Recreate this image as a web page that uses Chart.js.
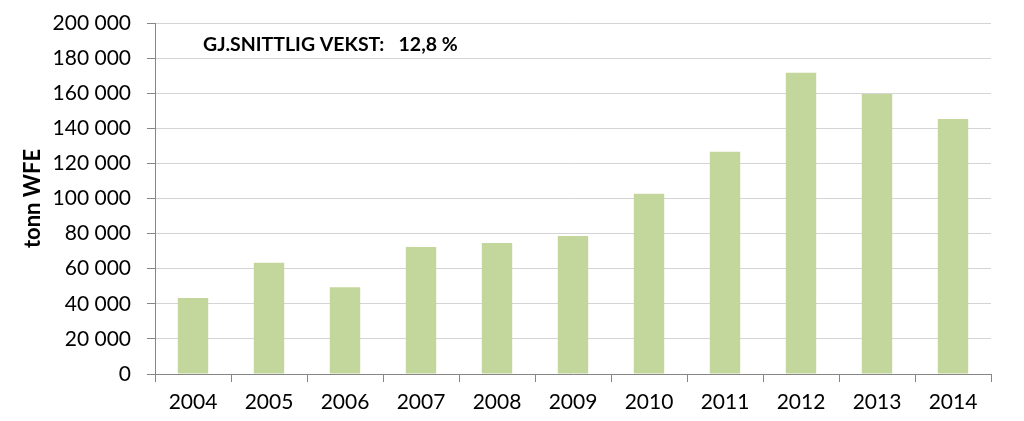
<!DOCTYPE html>
<html>
<head>
<meta charset="utf-8">
<script src="https://cdn.jsdelivr.net/npm/chart.js@4"></script>
<style>
  html, body { margin: 0; padding: 0; background: #fff; }
  #wrap { width: 1024px; height: 421px; }
</style>
</head>
<body>
<div id="wrap"><canvas id="chart" width="1024" height="421"></canvas></div>
<script>
const years = ['2004', '2005', '2006', '2007', '2008', '2009', '2010', '2011', '2012', '2013', '2014'];
const tonnWfe = [43300, 63400, 49400, 72400, 74600, 78600, 102700, 126700, 171700, 159500, 145300];
const yTicks = [0, 20000, 40000, 60000, 80000, 100000, 120000, 140000, 160000, 180000, 200000];
const yTitle = 'tonn WFE';
const note = 'GJ.SNITTLIG VEKST:   12,8 %';

const fontFam = 'Lato, "Open Sans", sans-serif';

function fmt(v) {
    return String(v).replace(/\B(?=(\d{3})+(?!\d))/g, ' ');
}

// the "average growth" text in the top left of the plot
const notePlugin = {
    id: 'note',
    afterDraw(chart) {
        const c = chart.ctx;
        const a = chart.chartArea;
        c.save();
        c.font = 'bold 19.5px ' + fontFam;
        c.fillStyle = '#000';
        c.textBaseline = 'middle';
        c.fillText(note, a.left + 48, a.top + 22);
        c.restore();
    }
};

const ctx = document.getElementById('chart').getContext('2d');
const myChart = new Chart(ctx, {
    type: 'bar',
    data: {
        labels: years,
        datasets: [{
            data: tonnWfe,
            backgroundColor: '#c3d69b',
            barPercentage: 0.4,
            categoryPercentage: 1.0
        }]
    },
    options: {
        responsive: false,
        animation: false,
        layout: { padding: { top: 23, right: 33, left: 0, bottom: 0 } },
        plugins: {
            legend: { display: false },
            tooltip: { enabled: false }
        },
        scales: {
            x: {
                offset: true,
                grid: {
                    offset: true,
                    drawOnChartArea: false,
                    tickLength: 8,
                    tickColor: '#868686'
                },
                border: { color: '#868686', width: 1 },
                ticks: {
                    color: '#000',
                    font: { family: fontFam, size: 21 },
                    padding: 8,
                    maxRotation: 0
                },
                afterFit(scale) {
                    scale.height = 47;
                    scale.paddingTop = 0;
                }
            },
            y: {
                min: 0,
                max: 200000,
                afterBuildTicks(scale) {
                    scale.ticks = yTicks.map(v => ({ value: v }));
                },
                grid: {
                    color: '#d4d4d4',
                    tickColor: '#868686',
                    tickLength: 8
                },
                border: { color: '#868686', width: 1 },
                ticks: {
                    color: '#000',
                    font: { family: fontFam, size: 21, lineHeight: 0.6 },
                    padding: 16,
                    callback: v => fmt(v)
                },
                title: {
                    display: true,
                    text: yTitle,
                    color: '#000',
                    font: { family: fontFam, size: 22, weight: 'bold' },
                    padding: { top: 20, bottom: 0 }
                },
                afterFit(scale) {
                    scale.width = 155;
                    scale.paddingTop = 0;
                    scale.paddingBottom = 0;
                }
            }
        }
    },
    plugins: [notePlugin]
});
</script>
</body>
</html>
